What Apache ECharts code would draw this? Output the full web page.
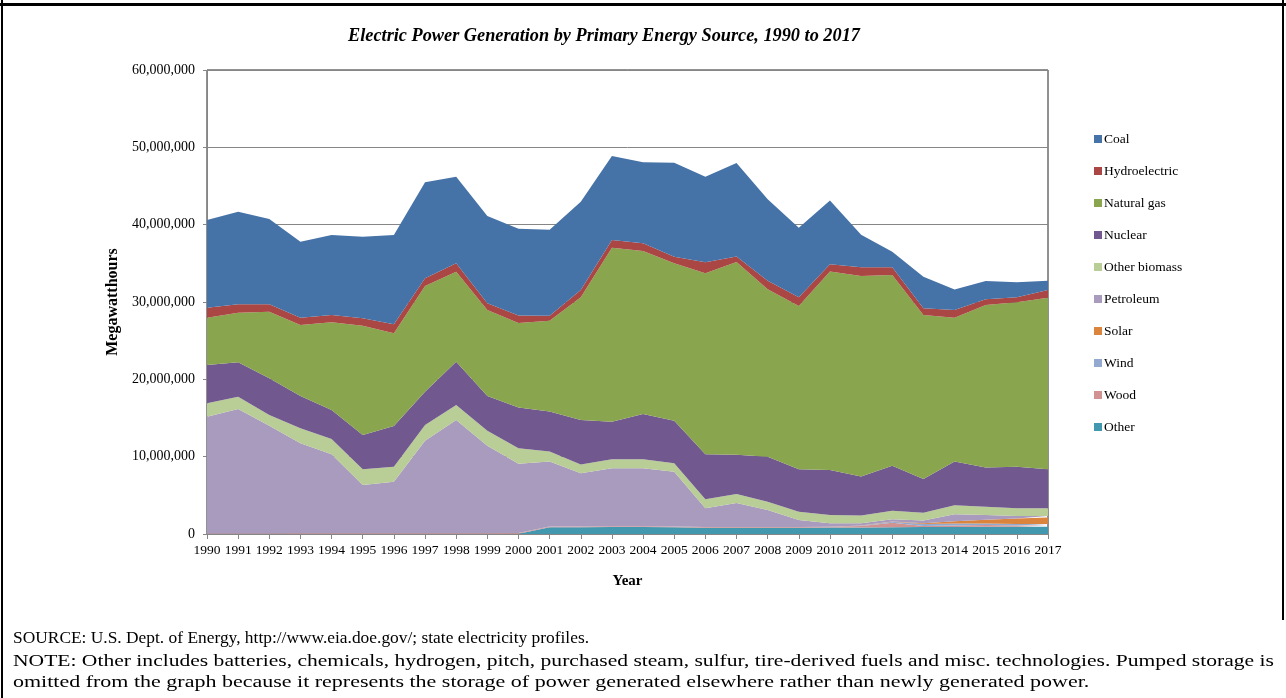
<!DOCTYPE html>
<html>
<head>
<meta charset="utf-8">
<script src="https://cdn.jsdelivr.net/npm/echarts@6/dist/echarts.min.js"></script>
<style>
html,body{margin:0;padding:0;background:#fff;}
#chart{width:1286px;height:698px;}
</style>
</head>
<body>
<div id="chart"></div>
<script>
// Years (category axis)
const years = ['1990','1991','1992','1993','1994','1995','1996','1997','1998','1999','2000','2001','2002','2003','2004','2005','2006','2007','2008','2009','2010','2011','2012','2013','2014','2015','2016','2017'];

// Series values in millions of MWh (scaled to MWh below)
const coal        = [11.34,11.98,11.03,9.83,10.35,10.55,11.55,12.41,11.20,11.29,11.21,11.12,11.42,10.86,10.48,12.14,11.07,12.07,10.52,9.00,8.23,4.19,2.02,4.10,2.67,2.37,1.95,1.21];
const hydro       = [1.29,1.08,0.95,0.94,0.95,0.96,1.17,1.00,1.08,0.86,0.98,0.65,0.95,0.99,0.99,0.86,1.42,0.73,1.12,1.12,0.95,1.12,0.99,0.86,1.00,0.74,0.64,0.99];
const naturalGas  = [6.12,6.42,8.62,9.18,11.33,14.14,11.98,13.67,11.64,11.12,10.92,11.72,15.86,22.50,21.08,20.34,23.41,24.92,21.64,21.11,25.64,25.95,24.65,21.22,18.57,21.01,21.25,22.19];
const nuclear     = [4.95,4.44,4.74,4.18,3.75,4.43,5.26,4.30,5.60,4.49,5.25,5.17,5.74,4.87,5.86,5.52,5.82,5.08,5.82,5.49,5.82,5.04,5.82,4.34,5.65,5.07,5.39,5.05];
const otherBio    = [1.73,1.60,1.39,1.94,1.99,2.03,1.94,2.03,1.94,1.94,2.03,1.30,1.15,1.17,1.17,1.08,1.16,1.16,1.08,1.07,1.08,0.99,1.11,1.01,1.18,1.07,0.99,0.99];
const petroleum   = [15.12,16.11,13.95,11.63,10.20,6.24,6.67,11.97,14.64,11.32,8.95,8.40,6.88,7.49,7.49,7.10,2.40,3.10,2.20,0.90,0.45,0.30,0.30,0.35,0.90,0.61,0.31,0.21];
const solar       = [0,0,0,0,0,0,0,0,0,0,0,0,0,0,0,0,0,0,0,0,0.01,0.01,0.02,0.10,0.30,0.50,0.72,0.82];
const wind        = [0,0,0,0,0,0,0,0,0,0,0,0,0,0,0,0,0,0,0,0,0,0.03,0.12,0.25,0.25,0.20,0.20,0.20];
const wood        = [0.05,0.05,0.05,0.10,0.10,0.10,0.10,0.10,0.10,0.10,0.10,0.10,0.10,0.10,0.10,0.10,0.10,0.10,0.10,0.11,0.10,0.20,0.60,0.15,0.20,0.20,0.15,0.15];
const other       = [0,0,0,0,0,0,0,0,0,0,0.02,0.87,0.87,0.90,0.90,0.86,0.82,0.80,0.80,0.80,0.83,0.85,0.87,0.90,0.90,0.95,0.95,0.95];

// Y tick labels
const yTicks = [0, 10000000, 20000000, 30000000, 40000000, 50000000, 60000000];

const seriesDefs = [
  {name:'Other', data: other, color:'#4198AF'},
  {name:'Wood', data: wood, color:'#D19392'},
  {name:'Wind', data: wind, color:'#93A9CF'},
  {name:'Solar', data: solar, color:'#DB843D'},
  {name:'Petroleum', data: petroleum, color:'#A99BBD'},
  {name:'Other biomass', data: otherBio, color:'#B9CD96'},
  {name:'Nuclear', data: nuclear, color:'#71588F'},
  {name:'Natural gas', data: naturalGas, color:'#89A54E'},
  {name:'Hydroelectric', data: hydro, color:'#AA4643'},
  {name:'Coal', data: coal, color:'#4572A7'}
];
const legendOrder = ['Coal','Hydroelectric','Natural gas','Nuclear','Other biomass','Petroleum','Solar','Wind','Wood','Other'];

const serif = '"Liberation Serif", "DejaVu Serif", serif';
const chart = echarts.init(document.getElementById('chart'));

chart.setOption({
  animation: false,
  backgroundColor: '#fff',
  title: {
    text: 'Electric Power Generation by Primary Energy Source, 1990 to 2017',
    left: 599, top: 22, textAlign: 'center',
    textStyle: {fontFamily: serif, fontSize: 18.3, fontWeight: 'bold', fontStyle: 'italic', color: '#000'}
  },
  legend: {
    data: legendOrder,
    orient: 'vertical',
    left: 1089, top: 127,
    icon: 'rect',
    itemWidth: 8, itemHeight: 8,
    itemGap: 18,
    textStyle: {fontFamily: serif, fontSize: 13.5, color: '#000', lineHeight: 14, padding: [0,0,0,-3]}
  },
  grid: {left: 207, right: 238, top: 70, bottom: 164, show: true, borderColor: '#222', borderWidth: 1},
  xAxis: {
    type: 'category', data: years, boundaryGap: false,
    name: 'Year', nameLocation: 'middle', nameGap: 40,
    nameTextStyle: {fontFamily: serif, fontSize: 15, fontWeight: 'bold', color: '#000'},
    axisLine: {lineStyle: {color: '#868686'}},
    axisTick: {show: true, length: 5, interval: 0, lineStyle: {color: '#868686'}},
    axisLabel: {interval: 0, fontFamily: serif, fontSize: 13.5, color: '#000', margin: 9},
    splitLine: {show: false}
  },
  yAxis: {
    type: 'value', min: 0, max: 60000000, interval: 10000000,
    name: 'Megawatthours', nameLocation: 'middle', nameGap: 85, nameRotate: 90,
    nameTextStyle: {fontFamily: serif, fontSize: 16, fontWeight: 'bold', color: '#000'},
    axisLine: {show: true, lineStyle: {color: '#868686'}},
    axisTick: {show: true, length: 4, lineStyle: {color: '#868686'}},
    axisLabel: {fontFamily: serif, fontSize: 14, color: '#000', margin: 12,
      formatter: v => yTicks.includes(v) ? v.toLocaleString('en-US') : ''},
    splitLine: {lineStyle: {color: '#868686', width: 1}}
  },
  series: seriesDefs.map(s => ({
    name: s.name, type: 'line', stack: 'total',
    data: s.data.map(v => Math.round(v * 1000000)),
    symbol: 'none', smooth: false,
    lineStyle: {width: 0},
    itemStyle: {color: s.color},
    areaStyle: {color: s.color, opacity: 1},
    emphasis: {disabled: true}
  })),
  graphic: [
    {type: 'rect', shape: {x: 0, y: 3, width: 1286, height: 3}, style: {fill: '#000'}},
    {type: 'rect', shape: {x: 1, y: 0, width: 2, height: 698}, style: {fill: '#000'}},
    {type: 'rect', shape: {x: 1282, y: 0, width: 2, height: 620}, style: {fill: '#000'}},
    {type: 'text', x: 13, y: 630, style: {text: 'SOURCE: U.S. Dept. of Energy, http://www.eia.doe.gov/; state electricity profiles.', font: '17.4px ' + serif, fill: '#000'}},
    {type: 'text', x: 13, y: 653, scaleX: 1.24, style: {text: 'NOTE: Other includes batteries, chemicals, hydrogen, pitch, purchased steam, sulfur, tire-derived fuels and misc. technologies. Pumped storage is', font: '17.4px ' + serif, fill: '#000'}},
    {type: 'text', x: 13, y: 674, scaleX: 1.265, style: {text: 'omitted from the graph because it represents the storage of power generated elsewhere rather than newly generated power.', font: '17.4px ' + serif, fill: '#000'}}
  ]
});
</script>
</body>
</html>
